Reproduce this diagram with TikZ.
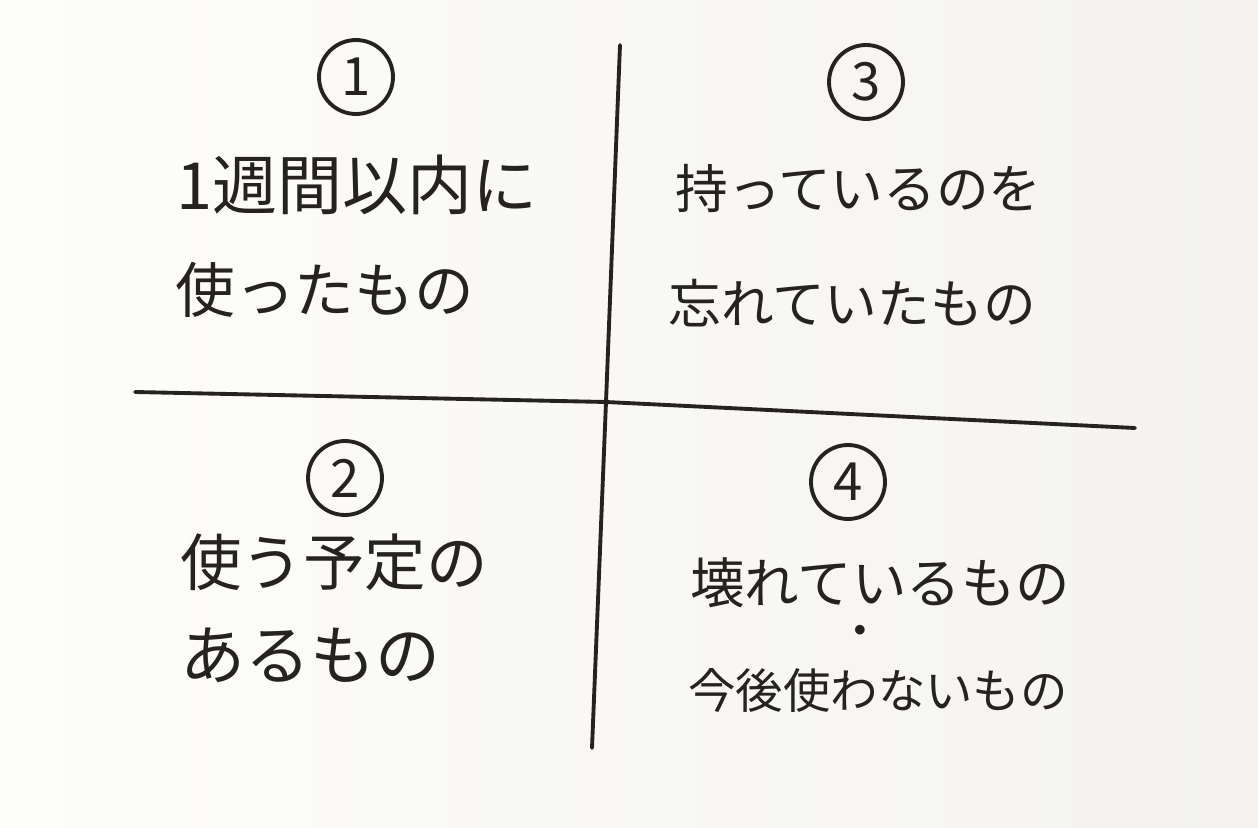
\documentclass[tikz,border=0pt]{standalone}
\usepackage{fontspec}
\setmainfont{Noto Sans CJK JP}
\definecolor{BoardWhite}{RGB}{253,253,252}
\definecolor{BoardGrey}{RGB}{244,243,239}
\definecolor{MarkerInk}{RGB}{38,34,33}
\usetikzlibrary{positioning}

\begin{document}
\begin{tikzpicture}[x=0.02cm,y=-0.02cm,
  hand/.style={anchor=west,inner sep=0pt,text=MarkerInk,font=\fontsize{#1}{#1}\selectfont},
  num/.style={draw=MarkerInk,line width=2.2pt,circle,minimum size=1.48cm,inner sep=0pt,
    text=MarkerInk,font=\fontsize{30pt}{30pt}\selectfont}]
% board
\shade[left color=BoardWhite,right color=BoardGrey] (0,0) rectangle (1258,828);
\useasboundingbox (0,0) rectangle (1258,828);
% axes
\coordinate (top) at (620,45);
\coordinate (bottom) at (592,748);
\coordinate (left) at (135,392);
\coordinate (right) at (1135,428);
\coordinate (cross) at (606,402);
\draw[MarkerInk,line width=2.2pt,line cap=round] (top) -- (cross) -- (bottom);
\draw[MarkerInk,line width=2.2pt,line cap=round] (left) -- (cross) -- (right);
% circled numbers
\node[num] (n1) at (356,77) {1};
\node[num] (n2) at (345,478) {2};
\node[num] (n3) at (866,82) {3};
\node[num] (n4) at (848,482) {4};
% 1
\node[hand=37pt] (t1a) at (176,185) {1週間以内に};
\node[hand=34pt] (t1b) at (175,290) {使ったもの};
% 2
\node[hand=35pt] (t2a) at (180,562) {使う予定の};
\node[hand=37pt] (t2b) at (180,655) {あるもの};
% 3
\node[hand=30pt] (t3a) at (675,188) {持っているのを};
\node[hand=30pt] (t3b) at (668,303) {忘れていたもの};
% 4
\node[hand=31pt] (t4a) at (690,583) {壊れているもの};
\node[hand=26pt,anchor=center] (t4dot) at (860,636) {・};
\node[hand=27pt] (t4b) at (688,690) {今後使わないもの};
\end{tikzpicture}
\end{document}
